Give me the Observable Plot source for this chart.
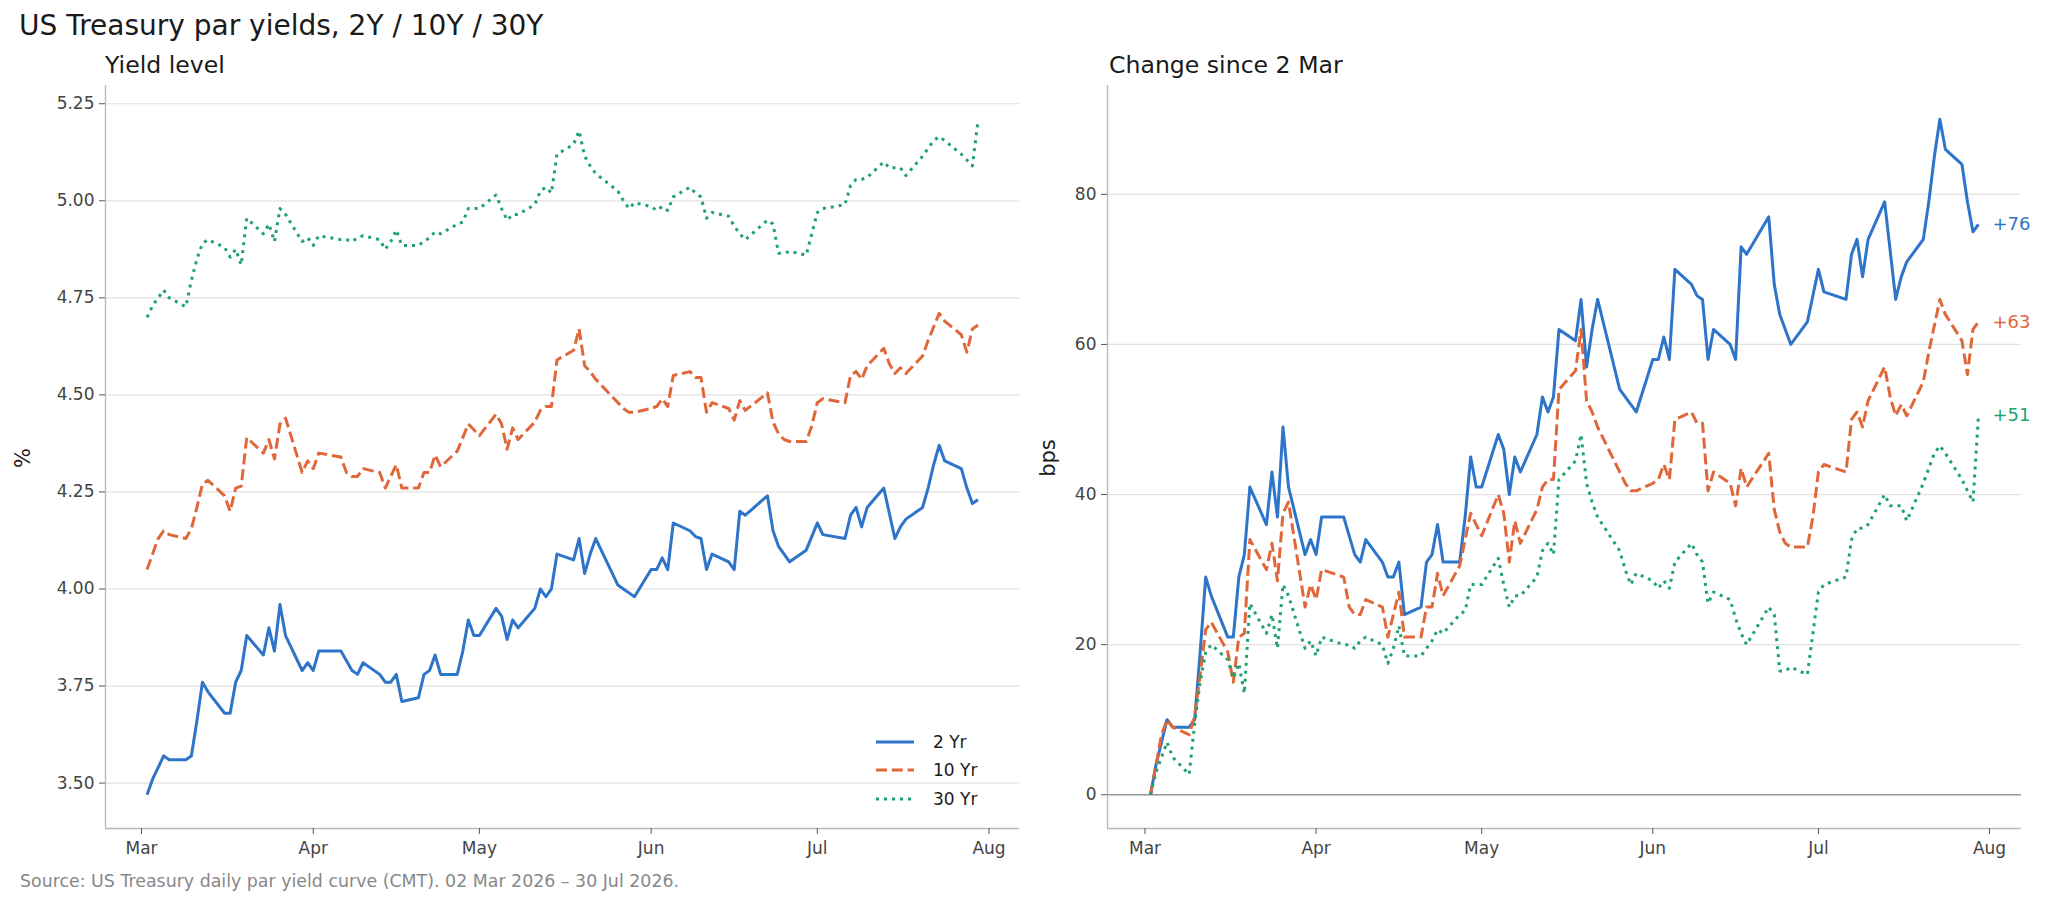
<!DOCTYPE html>
<html><head><meta charset="utf-8">
<script src="https://cdn.jsdelivr.net/npm/d3@7"></script>
<script src="https://cdn.jsdelivr.net/npm/@observablehq/plot@0.6"></script>
<style>
html,body{margin:0;padding:0;background:#fff;}
#wrap{position:relative;width:2048px;height:903px;overflow:hidden;font-family:"DejaVu Sans",sans-serif;}
#wrap svg{position:absolute;top:0;}
.abs{position:absolute;white-space:nowrap;line-height:1;}
.rot{position:absolute;white-space:nowrap;line-height:1;transform:translate(-50%,-50%) rotate(-90deg);}
</style></head><body><div id="wrap"></div>
<script>
// ---- data ----
const dates = [
"2026-03-02","2026-03-03","2026-03-04","2026-03-05","2026-03-06",
"2026-03-09","2026-03-10","2026-03-11","2026-03-12","2026-03-13",
"2026-03-16","2026-03-17","2026-03-18","2026-03-19","2026-03-20",
"2026-03-23","2026-03-24","2026-03-25","2026-03-26","2026-03-27",
"2026-03-30","2026-03-31",
"2026-04-01","2026-04-02","2026-04-06","2026-04-07","2026-04-08","2026-04-09","2026-04-10",
"2026-04-13","2026-04-14","2026-04-15","2026-04-16","2026-04-17",
"2026-04-20","2026-04-21","2026-04-22","2026-04-23","2026-04-24",
"2026-04-27","2026-04-28","2026-04-29","2026-04-30",
"2026-05-01","2026-05-04","2026-05-05","2026-05-06","2026-05-07","2026-05-08",
"2026-05-11","2026-05-12","2026-05-13","2026-05-14","2026-05-15",
"2026-05-18","2026-05-19","2026-05-20","2026-05-21","2026-05-22",
"2026-05-26","2026-05-27","2026-05-28","2026-05-29",
"2026-06-01","2026-06-02","2026-06-03","2026-06-04","2026-06-05",
"2026-06-08","2026-06-09","2026-06-10","2026-06-11","2026-06-12",
"2026-06-15","2026-06-16","2026-06-17","2026-06-18",
"2026-06-22","2026-06-23","2026-06-24","2026-06-25","2026-06-26",
"2026-06-29","2026-06-30",
"2026-07-01","2026-07-02","2026-07-06","2026-07-07","2026-07-08","2026-07-09","2026-07-10",
"2026-07-13","2026-07-14","2026-07-15","2026-07-16","2026-07-17",
"2026-07-20","2026-07-21","2026-07-22","2026-07-23","2026-07-24",
"2026-07-27","2026-07-28","2026-07-29","2026-07-30"];

// starting yields on 2 Mar (%)
const base2y = 3.47, base10y = 4.05, base30y = 4.70;

// change since 2 Mar (bps)
const chg2y = [
0,4,7,10,9, 9,10,19,29,26.5, 21,21,29,32,41, 36,43,37,49,41, 32,34,
32,37,37,34.5,32,31,34, 31,29,29,31,24, 25,31,32,36,31, 31,37,45,41,
41,48,46,40,45,43, 48,53,51,53,62, 60.5,66,57,62,66, 54,53,52,51,
58,58,61,58,70, 68,66.5,66,58,62, 60,58,73,72, 77,68,64,62,60, 63,66.5,
70,67,66,72,74,69,74, 79,72.5,66,69,71, 74,79,85,90,86, 84,79,75,76];
const chg10y = [
0,4,8,10,9, 8,10.5,16,22,23, 19,15,21,21.5,34, 30,33.5,28.5,37.5,39, 25,28,
26,30,29,25,24,24,26, 25,21,24,27,21, 21,25,25,29.5,26.5, 30.5,34,37.5,36,
34.5,40,37.5,31,36.5,33.5, 38,41,42,42,54, 56.5,62,52.5,51,49, 43,41.5,40.5,40.5,
41.5,42,44,42,50, 51,49.5,49.5,40.5,43, 41.5,38.5,43.5,41, 45.5,38,35,33.5,33, 33,37,
43,44,43,50,51,49,52.5, 57,53,50.5,52,50.5, 55,59,62.5,66,64, 60.5,56,62,63];
const chg30y = [
0,3,5,7,5, 2.7,9.5,15,19,20, 18,15.5,17.5,13.5,25.5, 21.5,24,19.5,28,26.5, 19.5,20.5,
18.5,21,20,20,19.5,20.5,21, 20,17.5,19.5,22.5,18.5, 18.5,19.5,20.5,22,21.5, 24,24.5,28,28,
28,31.5,28,25,26.5,26.5, 29,32.5,33.5,32,42, 44.5,48,41.5,39,37, 32.5,30,28,29.5,
28.5,27.5,28.5,27.5,31, 33.5,32,31,25.5,27, 26,23.5,21.5,20, 25,24,16.5,16.5,17, 16,21.5,
27,28,29,34,35.5,35.5,36, 40,38.5,38.5,38.5,36.5, 41.5,43.5,45.5,46.5,45.5, 42,40.5,39,50.5];

const seriesNames = ["2 Yr", "10 Yr", "30 Yr"];
const seriesColors = ["#2e74c9", "#e0673a", "#1fa26e"];
const seriesDash = [null, "11,4.8", "3,5"];
const levelTicks = [3.50, 3.75, 4.00, 4.25, 4.50, 4.75, 5.00, 5.25];
const bpsTicks = [0, 20, 40, 60, 80];
const monthTicks = ["2026-03-01","2026-04-01","2026-05-01","2026-06-01","2026-07-01","2026-08-01"];
const xDomainLeft = ["2026-02-22T12:00:00Z", "2026-08-06T12:00:00Z"];
const xDomainRight = ["2026-02-22T05:00:00Z", "2026-08-06T19:00:00Z"];
const levelDomain = [3.383, 5.297];
const bpsDomain = [-4.5, 94.5];

// ---- build tables ----
const bases = [base2y, base10y, base30y];
const changes = [chg2y, chg10y, chg30y];
const tables = seriesNames.map((name, s) => dates.map((d, i) => ({
  date: new Date(d + "T00:00:00Z"),
  series: name,
  change: changes[s][i],
  level: +(bases[s] + changes[s][i] / 100).toFixed(4)
})));
const mTicks = monthTicks.map(d => new Date(d + "T00:00:00Z"));

const wrap = document.getElementById("wrap");
const baseStyle = {fontFamily: "DejaVu Sans", fontSize: "17px", color: "#444", background: "transparent", overflow: "visible"};

function lineMarks(key) {
  return tables.map((t, s) => Plot.line(t, {
    x: "date", y: key, stroke: seriesColors[s], strokeWidth: 3,
    strokeDasharray: seriesDash[s] || undefined, strokeLinejoin: "round", strokeLinecap: "butt"
  }));
}

function panel({width, marginLeft, marginRight, xDom, yDomain, yTicks, yFmt, extra, key}) {
  const xDomain = xDom.map(d => new Date(d));
  return Plot.plot({
    width, height: 870, marginTop: 85, marginBottom: 42, marginLeft, marginRight,
    style: baseStyle,
    x: {type: "utc", domain: xDomain},
    y: {domain: yDomain},
    marks: [
      Plot.gridY(yTicks, {stroke: "#e2e2e2", strokeOpacity: 1, strokeWidth: 1.2}),
      ...(extra || []),
      ...lineMarks(key),
      Plot.ruleX([xDomain[0]], {stroke: "#b8b8b8", strokeWidth: 1.3}),
      Plot.ruleY([yDomain[0]], {stroke: "#b8b8b8", strokeWidth: 1.3}),
      Plot.axisY(yTicks, {tickFormat: yFmt, tickSize: 6, tickPadding: 5, stroke: "#555", fill: "#444", fontSize: 17, label: null}),
      Plot.axisX(mTicks, {tickFormat: d3.utcFormat("%b"), tickSize: 6, tickPadding: 7, stroke: "#555", fill: "#444", fontSize: 17, label: null})
    ]
  });
}

const left = panel({width: 1040, marginLeft: 105, marginRight: 21, xDom: xDomainLeft, yDomain: levelDomain, yTicks: levelTicks, yFmt: d3.format(".2f"), key: "level"});
left.style.left = "0px";
wrap.appendChild(left);

const lastPts = tables.map((t, s) => ({...t[t.length - 1], color: seriesColors[s]}));
const right = panel({
  width: 1008, marginLeft: 67, marginRight: 27, xDom: xDomainRight, yDomain: bpsDomain, yTicks: bpsTicks, yFmt: d3.format("d"), key: "change",
  extra: [
    Plot.ruleY([0], {stroke: "#999", strokeWidth: 1.4}),
    Plot.text(lastPts, {x: "date", y: "change", text: d => "+" + Math.round(d.change), fill: "color",
      dx: 14, textAnchor: "start", fontSize: 18})
  ]
});
right.style.left = "1040px";
wrap.appendChild(right);

// ---- text ----
function addText(txt, css, cls = "abs") {
  const el = document.createElement("div");
  el.className = cls;
  el.textContent = txt;
  Object.assign(el.style, css);
  wrap.appendChild(el);
  return el;
}
addText("US Treasury par yields, 2Y / 10Y / 30Y", {left: "19px", top: "12px", fontSize: "28px", color: "#1a1a1a"});
addText("Yield level", {left: "105px", top: "54px", fontSize: "23.6px", color: "#1a1a1a"});
addText("Change since 2 Mar", {left: "1109px", top: "54px", fontSize: "23.6px", color: "#1a1a1a"});
addText("%", {left: "23px", top: "458px", fontSize: "21px", color: "#1a1a1a"}, "rot");
addText("bps", {left: "1048px", top: "458px", fontSize: "21px", color: "#1a1a1a"}, "rot");
addText("Source: US Treasury daily par yield curve (CMT). 02 Mar 2026 \u2013 30 Jul 2026.", {left: "20px", top: "873px", fontSize: "17.4px", color: "#888"});

// legend
const legendY = [742, 770, 799];
seriesNames.forEach((name, s) => {
  const row = document.createElement("div");
  row.className = "abs";
  Object.assign(row.style, {left: "876px", top: (legendY[s] - 9) + "px", height: "18px", display: "flex", alignItems: "center", fontSize: "17px", color: "#1a1a1a"});
  const sw = d3.create("svg").attr("width", 40).attr("height", 16).style("position", "static").style("margin-right", "17px");
  sw.append("line").attr("x1", 0).attr("x2", 38).attr("y1", 8).attr("y2", 8)
    .attr("stroke", seriesColors[s]).attr("stroke-width", 3)
    .attr("stroke-dasharray", seriesDash[s]);
  row.appendChild(sw.node());
  const lab = document.createElement("span");
  lab.textContent = name;
  row.appendChild(lab);
  wrap.appendChild(row);
});
</script></body></html>
